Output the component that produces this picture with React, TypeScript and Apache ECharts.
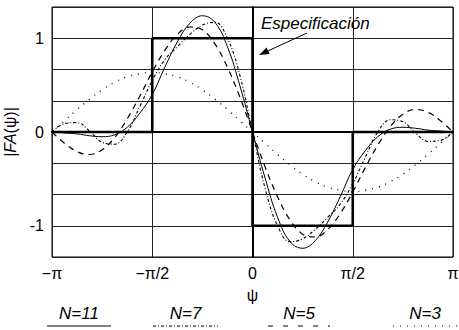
import React, { useEffect, useRef } from "react";
import * as echarts from "echarts";

// Sample positions of ψ in units of π (−π … π, step π/16)
const PSI: number[] = Array.from({ length: 33 }, (_, i) => (i - 16) / 16);

// Synthesised array factors for each array size
const N11: number[] = [
  0, -0.01, -0.02, -0.04, -0.05, -0.03, 0.05, 0.2, 0.4, 0.69, 0.96, 1.16, 1.24, 1.17, 0.91, 0.49,
  0, -0.49, -0.91, -1.17, -1.24, -1.16, -0.96, -0.69, -0.4, -0.2, -0.05, 0.03, 0.05, 0.04, 0.02, 0.01, 0,
];
const N7: number[] = [
  0, 0.09, 0.1, 0.01, -0.11, -0.13, 0.0, 0.27, 0.55, 0.77, 0.91, 1.04, 1.14, 1.17, 1.0, 0.6,
  0, -0.6, -1.0, -1.17, -1.14, -1.04, -0.91, -0.77, -0.55, -0.27, 0.0, 0.13, 0.11, -0.01, -0.1, -0.09, 0,
];
const N5: number[] = [
  0, -0.12, -0.21, -0.24, -0.19, -0.06, 0.14, 0.38, 0.64, 0.87, 1.04, 1.12, 1.09, 0.94, 0.69, 0.37,
  0, -0.37, -0.69, -0.94, -1.09, -1.12, -1.04, -0.87, -0.64, -0.38, -0.14, 0.06, 0.19, 0.24, 0.21, 0.12, 0,
];
const N3: number[] = [
  0, 0.12, 0.24, 0.35, 0.45, 0.53, 0.59, 0.62, 0.64, 0.62, 0.59, 0.53, 0.45, 0.35, 0.24, 0.12,
  0, -0.12, -0.24, -0.35, -0.45, -0.53, -0.59, -0.62, -0.64, -0.62, -0.59, -0.53, -0.45, -0.35, -0.24, -0.12, 0,
];

// Desired pattern (specification)
const SPEC_PSI: number[] = [-1, -0.5, -0.5, 0, 0, 0.5, 0.5, 1];
const SPEC_VAL: number[] = [0, 0, 1, 1, -1, -1, 0, 0];

// Axis tick labels
const X_TICKS: Record<string, string> = { "-1": "\u2212\u03c0", "-0.5": "\u2212\u03c0/2", "0": "0", "0.5": "\u03c0/2", "1": "\u03c0" };

const LEGEND = [
  { label: "N=11", dash: null as number[] | null },
  { label: "N=7", dash: [3, 2, 1, 2] },
  { label: "N=5", dash: [5, 10] },
  { label: "N=3", dash: [1, 6] },
];

const FONT = "Liberation Sans, Arial, sans-serif";

function pairs(xs: number[], ys: number[]) {
  return xs.map((x, i) => [x, ys[i]]);
}

export default function App() {
  const ref = useRef<HTMLDivElement>(null);

  useEffect(() => {
    document.body.style.margin = "0";
    if (!ref.current) return;
    const chart = echarts.init(ref.current, null, { renderer: "svg" });

    const curve = (name: string, ys: number[], type: any, width: number) => ({
      name,
      type: "line",
      data: pairs(PSI, ys),
      smooth: 0.4,
      showSymbol: false,
      lineStyle: { color: "#000", width, type },
      z: 3,
    });

    const legendX = [[47, 111], [153, 218], [268, 330], [393, 457]];
    const legendGraphics: any[] = [];
    LEGEND.forEach((item, i) => {
      const [x1, x2] = legendX[i];
      legendGraphics.push({
        type: "text",
        x: (x1 + x2) / 2,
        y: 313,
        style: {
          text: item.label,
          font: `italic 17px ${FONT}`,
          fill: "#000",
          textAlign: "center",
          textVerticalAlign: "middle",
        },
      });
      legendGraphics.push({
        type: "line",
        shape: { x1, y1: 326, x2, y2: 326 },
        style: { stroke: "#000", lineWidth: 1.2, lineDash: item.dash || undefined },
      });
    });

    chart.setOption({
      animation: false,
      grid: {
        left: 52,
        right: 6,
        top: 7,
        bottom: 73,
        show: true,
        borderColor: "#000",
        borderWidth: 1,
        containLabel: false,
        outerBoundsMode: "none",
      },
      xAxis: {
        type: "value",
        min: -1,
        max: 1,
        interval: 0.5,
        name: "\u03c8",
        nameLocation: "middle",
        nameGap: 30,
        nameTextStyle: { fontFamily: FONT, fontSize: 16, color: "#000" },
        axisLine: { lineStyle: { color: "#000", width: 2 } },
        axisTick: { show: false },
        axisLabel: {
          fontFamily: FONT,
          fontSize: 16,
          color: "#000",
          margin: 8,
          formatter: (v: number) => X_TICKS[String(Math.round(v * 2) / 2)] ?? "",
        },
        splitLine: { show: true, lineStyle: { color: "#222", width: 1 } },
      },
      yAxis: {
        type: "value",
        min: -4 / 3,
        max: 4 / 3,
        interval: 1 / 3,
        name: "|{i|FA}(\u03c8)|",
        nameLocation: "middle",
        nameRotate: 90,
        nameGap: 26,
        nameTextStyle: {
          fontFamily: FONT,
          fontSize: 16,
          color: "#000",
          rich: { i: { fontFamily: FONT, fontSize: 16, fontStyle: "italic", color: "#000" } },
        },
        axisLine: { show: true, lineStyle: { color: "#000", width: 2 } },
        axisTick: { show: false },
        axisLabel: {
          fontFamily: FONT,
          fontSize: 16,
          color: "#000",
          margin: 8,
          formatter: (v: number) => {
            const r = Math.round(v);
            return Math.abs(v - r) < 1e-6 ? String(r) : "";
          },
        },
        splitLine: { show: true, lineStyle: { color: "#222", width: 1 } },
      },
      series: [
        {
          name: "Especificación",
          type: "line",
          data: pairs(SPEC_PSI, SPEC_VAL),
          showSymbol: false,
          lineStyle: { color: "#000", width: 2.6 },
          z: 4,
        },
        curve("N=11", N11, "solid", 1),
        curve("N=7", N7, [3, 2, 1, 2], 1.1),
        curve("N=5", N5, [6, 5], 1.2),
        curve("N=3", N3, [1, 6], 1.3),
      ],
      graphic: [
        {
          type: "text",
          x: 261,
          y: 23,
          style: {
            text: "Especificación",
            font: `italic 17px ${FONT}`,
            fill: "#000",
            textVerticalAlign: "middle",
          },
          z: 10,
        },
        {
          type: "line",
          shape: { x1: 307, y1: 33, x2: 266, y2: 51.8 },
          style: { stroke: "#000", lineWidth: 1 },
          z: 10,
        },
        {
          type: "polygon",
          shape: { points: [[259, 55], [269.6, 54.0], [266.6, 47.6]] },
          style: { fill: "#000" },
          z: 10,
        },
        ...legendGraphics,
      ],
    });

    return () => chart.dispose();
  }, []);

  return (
    <div
      ref={ref}
      style={{ position: "absolute", left: 0, top: 0, width: 459, height: 330, background: "#fff" }}
    />
  );
}
